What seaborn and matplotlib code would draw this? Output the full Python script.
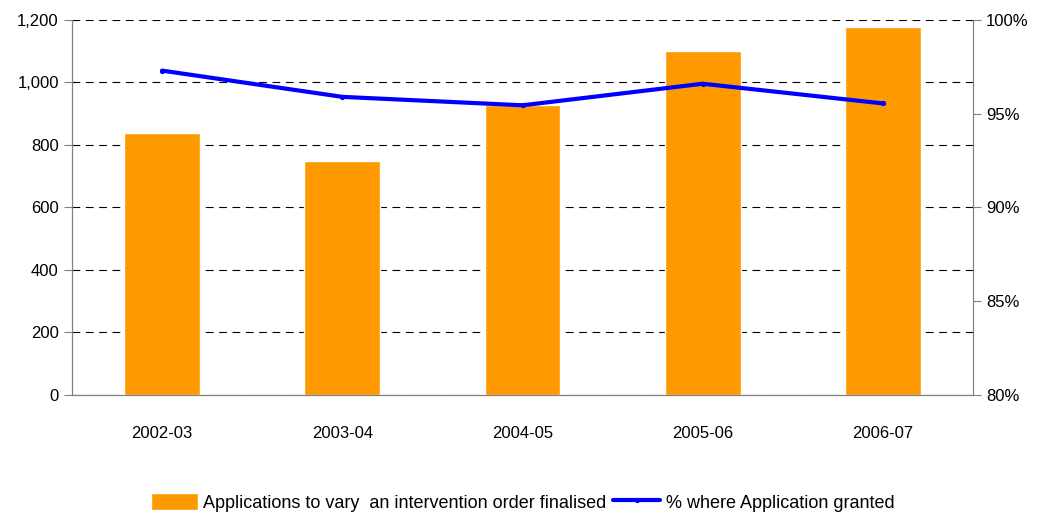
import matplotlib
matplotlib.use('Agg')
import matplotlib.pyplot as plt
import matplotlib.ticker as mticker
import numpy as np
import pandas as pd
import seaborn as sns

# Data
years = ['2002-03', '2003-04', '2004-05', '2005-06', '2006-07']
applications = [838, 749, 928, 1101, 1178]
pct_granted = [97.3, 95.9, 95.45, 96.6, 95.55]

sns.set_style('white')
plt.rcParams['font.family'] = ['Liberation Sans', 'DejaVu Sans']
plt.rcParams['text.color'] = 'black'
plt.rcParams['xtick.color'] = 'black'
plt.rcParams['ytick.color'] = 'black'

df = pd.DataFrame({'year': years, 'apps': applications, 'pct': pct_granted})

fig = plt.figure(figsize=(10.45, 5.18), dpi=100)
ax = fig.add_axes([0.0689, 0.2375, 0.8622, 0.7239])

sns.barplot(data=df, x='year', y='apps', color='#FF9900', saturation=1,
            width=0.42, ax=ax, label='Applications to vary  an intervention order finalised')
ax.set_xlim(-0.5, 4.5)
ax.set_ylim(0, 1200)
ax.yaxis.set_major_locator(mticker.MultipleLocator(200))
ax.yaxis.set_major_formatter(mticker.StrMethodFormatter('{x:,.0f}'))
ax.grid(axis='y', color='black', linestyle=(0, (7, 5)), linewidth=0.8)
ax.set_axisbelow(True)
ax.set_xlabel('')
ax.set_ylabel('')

# category boundary ticks on x axis
ax.set_xticks(np.arange(-0.5, 5, 1), minor=True)
ax.tick_params(axis='x', which='major', length=0, pad=22, labelsize=12)
ax.tick_params(axis='x', which='minor', length=6, color='#808080', direction='out')
ax.tick_params(axis='y', length=6, color='#808080', direction='out', labelsize=12,
               left=True)

for s in ['left', 'bottom', 'right']:
    ax.spines[s].set_color('#808080')
ax.spines['top'].set_visible(False)

ax2 = ax.twinx()
sns.lineplot(x=np.arange(len(years)), y=df['pct'], color='#0000FF', linewidth=3,
             marker='o', markersize=3, markeredgecolor='#0000FF', ax=ax2,
             label='% where Application granted')
ax2.set_ylim(80, 100)
ax2.yaxis.set_major_locator(mticker.MultipleLocator(5))
ax2.yaxis.set_major_formatter(mticker.FuncFormatter(lambda v, p: f'{v:.0f}%'))
ax2.tick_params(axis='y', length=6, color='#808080', direction='out', labelsize=12, right=True)
ax2.set_ylabel('')
for s in ['left', 'bottom', 'right']:
    ax2.spines[s].set_color('#808080')
ax2.spines['top'].set_visible(False)

h1, l1 = ax.get_legend_handles_labels()
h2, l2 = ax2.get_legend_handles_labels()
if ax.get_legend():
    ax.get_legend().remove()
if ax2.get_legend():
    ax2.get_legend().remove()
fig.legend(h1 + h2, l1 + l2, loc='center', bbox_to_anchor=(0.5, 0.03), ncol=2,
           frameon=False, fontsize=13, handlelength=2.6, handleheight=1.1,
           columnspacing=0.4, handletextpad=0.3)

fig.savefig('out.png', dpi=100)
